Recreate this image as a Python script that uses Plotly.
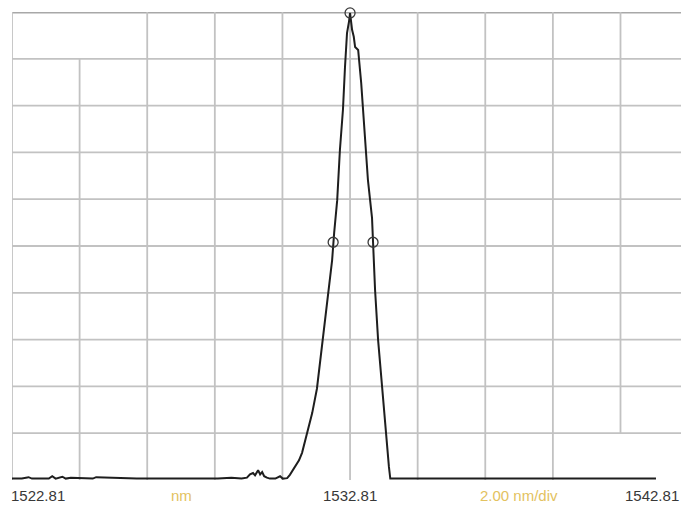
import plotly.graph_objects as go

# ---- data ----
wavelength_nm = [1522.81, 1523.10, 1523.30, 1523.40, 1523.55, 1523.90, 1524.00, 1524.10, 1524.30, 1524.40,
                 1524.55, 1525.20, 1525.30, 1526.50, 1527.80, 1528.90, 1529.30, 1529.60, 1529.76, 1529.85,
                 1529.94, 1530.00, 1530.09, 1530.15, 1530.21, 1530.27, 1530.35, 1530.44, 1530.60, 1530.74,
                 1530.82, 1530.95, 1531.03, 1531.18, 1531.30, 1531.39, 1531.54, 1531.69, 1531.83, 1531.98,
                 1532.07, 1532.19, 1532.28, 1532.34, 1532.43, 1532.51, 1532.60, 1532.66, 1532.72, 1532.78,
                 1532.81, 1532.87, 1532.92, 1532.96, 1533.05, 1533.14, 1533.19, 1533.28, 1533.34, 1533.46,
                 1533.55, 1533.64, 1533.76, 1533.90, 1533.96, 1534.00, 1535.50, 1537.00, 1538.50, 1540.00,
                 1541.00, 1541.60, 1541.86]
level_div = [0.03, 0.03, 0.06, 0.03, 0.03, 0.03, 0.08, 0.03, 0.07, 0.03,
             0.05, 0.03, 0.06, 0.03, 0.03, 0.03, 0.05, 0.03, 0.05, 0.12,
             0.15, 0.10, 0.21, 0.12, 0.17, 0.08, 0.05, 0.03, 0.03, 0.08,
             0.03, 0.04, 0.11, 0.28, 0.42, 0.58, 1.00, 1.43, 1.95, 2.84,
             3.35, 4.06, 4.70, 5.28, 5.98, 7.05, 7.91, 8.82, 9.55, 9.80,
             9.98, 9.62, 9.47, 9.25, 9.19, 8.48, 7.91, 7.05, 6.40, 5.60,
             4.06, 2.99, 1.92, 0.85, 0.28, 0.03, 0.03, 0.03, 0.03, 0.03,
             0.03, 0.04, 0.03]

marker_wl = [1532.81, 1532.31, 1533.49]
marker_lv = [9.98, 5.08, 5.08]

x_ticks = [1522.81 + 2 * i for i in range(11)]
y_ticks = list(range(11))
label_texts = ["1522.81", "nm", "1532.81", "2.00 nm/div", "1542.81"]
label_pos = [1522.81, 1527.81, 1532.81, 1537.81, 1542.60]
label_shift = [-3, 0, 0, 0, 0]

GRID = "#c2c2c2"
FONT = "Liberation Sans Narrow, Arial Narrow, Liberation Sans, Arial, sans-serif"

fig = go.Figure()
fig.add_trace(go.Scatter(x=wavelength_nm, y=level_div, mode="lines",
                         line=dict(color="#1e1e1e", width=2), hoverinfo="skip", cliponaxis=False))
fig.add_trace(go.Scatter(x=marker_wl, y=marker_lv, mode="markers",
                         marker=dict(symbol="circle-open", size=10, color="#3a3a3a", line=dict(width=1.3)),
                         hoverinfo="skip", cliponaxis=False))

shapes = []
for i, xv in enumerate(x_ticks):
    y0, y1 = 0, 10
    if i == 1:
        y1 = 9
    if i == 9:
        y0 = 1
    shapes.append(dict(type="line", xref="x", yref="y", x0=xv, x1=xv, y0=y0, y1=y1,
                       line=dict(color=GRID, width=1.8), layer="below"))
for yv in y_ticks[1:10]:
    shapes.append(dict(type="line", xref="paper", yref="y", x0=0, x1=1, y0=yv, y1=yv,
                       line=dict(color=GRID, width=1.8), layer="below"))
# thick top border
shapes.append(dict(type="line", xref="paper", yref="y", x0=0, x1=1, y0=10, y1=10,
                   line=dict(color="#a8a8a8", width=3), layer="below"))

annotations = []
anchors = ["left", "center", "center", "center", "right"]
colors = ["#383838", "#e3c260", "#383838", "#e3c260", "#383838"]
for t, xv, a, c, s in zip(label_texts, label_pos, anchors, colors, label_shift):
    annotations.append(dict(text=t, x=xv, xref="x", y=0, yref="paper", xanchor=a, yanchor="top",
                            xshift=s, yshift=-5, showarrow=False,
                            font=dict(family=FONT, size=15, color=c)))

fig.update_layout(
    width=681, height=508,
    margin=dict(l=12, r=0, t=12, b=28),
    paper_bgcolor="white", plot_bgcolor="white",
    showlegend=False,
    xaxis=dict(range=[1522.81, 1542.60], showgrid=False, zeroline=False, showticklabels=False,
               ticks="", showline=False, fixedrange=True),
    yaxis=dict(range=[0, 10], showgrid=False, zeroline=False, showticklabels=False,
               ticks="", showline=False, fixedrange=True),
    shapes=shapes, annotations=annotations,
)

fig.write_html("out.html", config={"displayModeBar": False},
               post_script="document.body.style.margin='0';document.body.style.overflow='hidden';")
